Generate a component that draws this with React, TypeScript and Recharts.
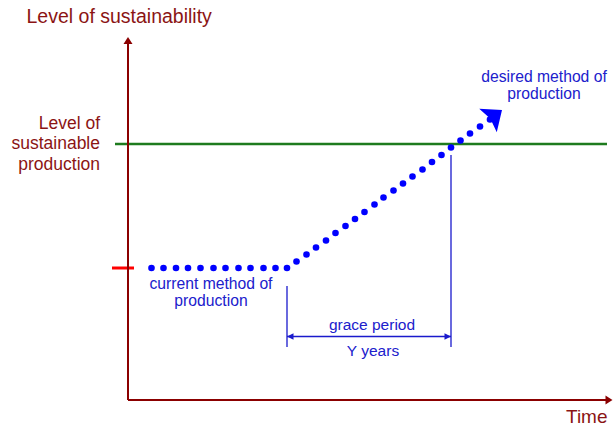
import React from 'react';
import { ComposedChart, XAxis, YAxis, Scatter, ReferenceLine, ReferenceDot } from 'recharts';

// ---- data (time units on x, sustainability units on y) ----
const X_DOMAIN: [number, number] = [0, 97];
const Y_DOMAIN: [number, number] = [0, 73];

const currentLevel = 26.4;
const sustainableLevel = 51.2;
const graceStart = 31.8;
const graceEnd = 64.6;
const graceArrowY = 12.7;
const graceBottomY = 10.6;
const graceLeftTopY = 22.8;
const graceRightTopY = 49.0;

const flatDotsX = [4.7, 7.1, 9.6, 12.0, 14.5, 17.1, 19.5, 22.1, 24.5, 27.1, 29.5, 31.8];
const risingDotsX = [33.7, 35.7, 37.6, 39.6, 41.5, 43.5, 45.4, 47.3, 49.3, 51.1, 53.1, 55.0, 56.9, 58.9, 60.8, 62.7, 64.6, 66.5, 68.4, 70.4, 72.4];
const risingDotsY = [27.7, 29.1, 30.5, 31.9, 33.4, 34.8, 36.2, 37.6, 39.1, 40.5, 41.9, 43.3, 44.7, 46.1, 47.6, 49.0, 50.5, 51.9, 53.3, 54.7, 56.1];
const arrowTip = { x: 74.8, y: 58.0 };

const yAxisTitle = 'Level of sustainability';
const xAxisTitle = 'Time';
const sustainableLabel = ['Level of', 'sustainable', 'production'];
const currentLabel = ['current method of', 'production'];
const desiredLabel = ['desired method of', 'production'];
const graceLabel = 'grace period';
const yearsLabel = 'Y years';

const dots = [
  ...flatDotsX.map((x) => ({ x, y: currentLevel })),
  ...risingDotsX.map((x, i) => ({ x, y: risingDotsY[i] })),
];

// ---- styles ----
const FONT = '"Liberation Sans", Arial, Helvetica, sans-serif';
const DARK_RED = '#8B0000';
const TEXT_RED = '#8B1414';
const GREEN = '#1E7B1E';
const RED = '#FF0000';
const DOT_BLUE = '#0000FF';
const LINE_BLUE = '#1A1ACC';
const TEXT_BLUE = '#2020CC';

const DotShape = (p: any) => <circle cx={p.cx} cy={p.cy} r={3.3} fill={DOT_BLUE} />;

const textShape = (lines: string[], color: string, size: number, anchor: string, lh: number) => (p: any) => (
  <text x={p.cx} y={p.cy} fill={color} fontSize={size} fontFamily={FONT} textAnchor={anchor}>
    {lines.map((l, i) => (
      <tspan key={i} x={p.cx} dy={i === 0 ? 0 : lh}>
        {l}
      </tspan>
    ))}
  </text>
);

const upArrow = (p: any) => (
  <polygon points={`${p.cx},${p.cy} ${p.cx - 4.5},${p.cy + 7} ${p.cx + 4.5},${p.cy + 7}`} fill={DARK_RED} />
);
const rightArrow = (p: any) => (
  <polygon points={`${p.cx},${p.cy} ${p.cx - 7},${p.cy - 4.5} ${p.cx - 7},${p.cy + 4.5}`} fill={DARK_RED} />
);
const smallLeft = (p: any) => (
  <polygon points={`${p.cx},${p.cy} ${p.cx + 6.5},${p.cy - 3.2} ${p.cx + 6.5},${p.cy + 3.2}`} fill={LINE_BLUE} />
);
const smallRight = (p: any) => (
  <polygon points={`${p.cx},${p.cy} ${p.cx - 6.5},${p.cy - 3.2} ${p.cx - 6.5},${p.cy + 3.2}`} fill={LINE_BLUE} />
);
const bigArrow = (p: any) => {
  const dx = 0.8, dy = -0.6; // direction in pixels
  const nx = 0.6, ny = 0.8;
  const L = 17.5, W = 14.6, N = 14.5;
  const bx = p.cx - L * dx, by = p.cy - L * dy;
  const a = `${bx + W * nx},${by + W * ny}`;
  const b = `${bx - W * nx},${by - W * ny}`;
  const m = `${p.cx - N * dx},${p.cy - N * dy}`;
  return <polygon points={`${p.cx},${p.cy} ${a} ${m} ${b}`} fill={DOT_BLUE} />;
};

export default function App() {
  return (
    <div style={{ position: 'absolute', left: 0, top: 0, width: 616, height: 427, background: '#fff' }}>
      <ComposedChart width={616} height={427} margin={{ top: 35, right: 3, bottom: 27, left: 128 }} data={dots}>
        <XAxis type="number" dataKey="x" domain={X_DOMAIN} allowDataOverflow hide />
        <YAxis type="number" dataKey="y" domain={Y_DOMAIN} allowDataOverflow hide />

        <ReferenceLine segment={[{ x: -3.2, y: currentLevel }, { x: 1.2, y: currentLevel }]} stroke={RED} strokeWidth={3} ifOverflow="visible" />
        <ReferenceLine segment={[{ x: -2.6, y: sustainableLevel }, { x: 95.8, y: sustainableLevel }]} stroke={GREEN} strokeWidth={2.5} ifOverflow="visible" />

        <ReferenceLine segment={[{ x: 0, y: 0 }, { x: 0, y: 72.0 }]} stroke={DARK_RED} strokeWidth={2} ifOverflow="visible" />
        <ReferenceLine segment={[{ x: 0, y: 0 }, { x: 96, y: 0 }]} stroke={DARK_RED} strokeWidth={2} ifOverflow="visible" />
        <ReferenceDot x={0} y={72.6} ifOverflow="visible" shape={upArrow} />
        <ReferenceDot x={96.9} y={0} ifOverflow="visible" shape={rightArrow} />

        <ReferenceLine segment={[{ x: graceStart, y: graceLeftTopY }, { x: graceStart, y: graceBottomY }]} stroke={LINE_BLUE} strokeWidth={1.3} ifOverflow="visible" />
        <ReferenceLine segment={[{ x: graceEnd, y: graceRightTopY }, { x: graceEnd, y: graceBottomY }]} stroke={LINE_BLUE} strokeWidth={1.3} ifOverflow="visible" />
        <ReferenceLine segment={[{ x: graceStart, y: graceArrowY }, { x: graceEnd, y: graceArrowY }]} stroke={LINE_BLUE} strokeWidth={1.3} ifOverflow="visible" />
        <ReferenceDot x={graceStart} y={graceArrowY} ifOverflow="visible" shape={smallLeft} />
        <ReferenceDot x={graceEnd} y={graceArrowY} ifOverflow="visible" shape={smallRight} />

        <Scatter data={dots} dataKey="y" shape={DotShape} isAnimationActive={false} />
        <ReferenceDot x={arrowTip.x} y={arrowTip.y} ifOverflow="visible" shape={bigArrow} />

        <ReferenceDot x={-20.3} y={75.5} ifOverflow="visible" shape={textShape([yAxisTitle], TEXT_RED, 19.5, 'start', 0)} />
        <ReferenceDot x={87.6} y={-4.6} ifOverflow="visible" shape={textShape([xAxisTitle], TEXT_RED, 19, 'start', 0)} />
        <ReferenceDot x={-5.6} y={54.3} ifOverflow="visible" shape={textShape(sustainableLabel, TEXT_RED, 17.5, 'end', 20.5)} />
        <ReferenceDot x={16.6} y={22.3} ifOverflow="visible" shape={textShape(currentLabel, TEXT_BLUE, 15.7, 'middle', 17)} />
        <ReferenceDot x={83.2} y={63.7} ifOverflow="visible" shape={textShape(desiredLabel, TEXT_BLUE, 15.7, 'middle', 17)} />
        <ReferenceDot x={48.8} y={14.0} ifOverflow="visible" shape={textShape([graceLabel], TEXT_BLUE, 15.5, 'middle', 0)} />
        <ReferenceDot x={49.0} y={8.8} ifOverflow="visible" shape={textShape([yearsLabel], TEXT_BLUE, 15.5, 'middle', 0)} />
      </ComposedChart>
    </div>
  );
}
